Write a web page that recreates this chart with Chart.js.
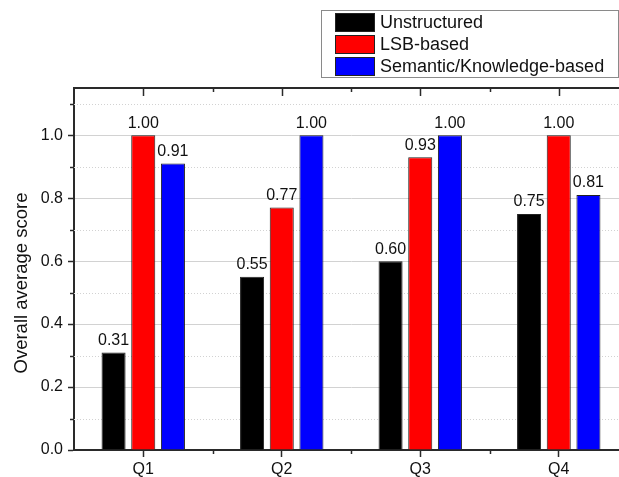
<!DOCTYPE html>
<html>
<head>
<meta charset="utf-8">
<script src="https://cdn.jsdelivr.net/npm/chart.js@4.4.1/dist/chart.umd.min.js"></script>
<style>
  html, body { margin: 0; padding: 0; background: #fff; overflow: hidden; }
  /* the plot area runs past the right edge of the visible frame */
  #wrap { width: 619px; height: 477px; overflow: hidden; }
  #c { display: block; }
</style>
</head>
<body>
<div id="wrap"><canvas id="c" width="640" height="477"></canvas></div>
<script>
// Quarterly scores per approach
const quarters = ['Q1', 'Q2', 'Q3', 'Q4'];
const seriesNames = ['Unstructured', 'LSB-based', 'Semantic/Knowledge-based'];
const unstructured = [0.31, 0.55, 0.60, 0.75];
const lsbBased = [1.00, 0.77, 0.93, 1.00];
const semanticBased = [0.91, 1.00, 1.00, 0.81];
const seriesColors = ['#000000', '#ff0000', '#0000ff'];
const yMajorTicks = [0.0, 0.2, 0.4, 0.6, 0.8, 1.0];
const yMinorTicks = [0.1, 0.3, 0.5, 0.7, 0.9, 1.1];
const yTitle = 'Overall average score';

const FONT = '"Liberation Sans", Arial, sans-serif';
const AXIS_COLOR = '#2a2a2a';

// Frame, minor grid, minor ticks, axis title, value labels and legend box
const decorations = {
  id: 'decorations',
  beforeDatasetsDraw(chart) {
    const { ctx, chartArea: a, scales: { y } } = chart;
    ctx.save();
    // dotted minor grid
    ctx.strokeStyle = '#d2d2d2';
    ctx.lineWidth = 1;
    ctx.setLineDash([1, 2]);
    yMinorTicks.forEach(v => {
      const py = Math.round(y.getPixelForValue(v)) + 0.5;
      ctx.beginPath(); ctx.moveTo(a.left, py); ctx.lineTo(a.right, py); ctx.stroke();
    });
    ctx.restore();
  },
  afterDraw(chart) {
    const { ctx, chartArea: a, scales: { x, y } } = chart;
    ctx.save();
    ctx.strokeStyle = AXIS_COLOR;
    // top frame line
    ctx.lineWidth = 2;
    ctx.beginPath(); ctx.moveTo(a.left - 1, a.top); ctx.lineTo(a.right, a.top); ctx.stroke();
    ctx.lineWidth = 1.5;
    // minor y ticks (outward)
    yMinorTicks.forEach(v => {
      const py = Math.round(y.getPixelForValue(v)) + 0.5;
      ctx.beginPath(); ctx.moveTo(a.left - 4, py); ctx.lineTo(a.left, py); ctx.stroke();
    });
    // x ticks: major at categories, minor at boundaries
    const n = quarters.length;
    const step = (a.right - a.left) / n;
    for (let i = 0; i < n; i++) {
      const cx = Math.round(x.getPixelForValue(i)) + 0.5;
      ctx.beginPath(); ctx.moveTo(cx, a.top); ctx.lineTo(cx, a.top + 8); ctx.stroke();
      if (i > 0) {
        const bx = Math.round(a.left + step * i) + 0.5;
        ctx.beginPath(); ctx.moveTo(bx, a.bottom); ctx.lineTo(bx, a.bottom + 4); ctx.stroke();
        ctx.beginPath(); ctx.moveTo(bx, a.top); ctx.lineTo(bx, a.top + 4); ctx.stroke();
      }
    }
    // y axis title
    ctx.fillStyle = '#111';
    ctx.font = '18.5px ' + FONT;
    ctx.textAlign = 'center';
    ctx.textBaseline = 'middle';
    ctx.translate(22, 283);
    ctx.rotate(-Math.PI / 2);
    ctx.fillText(yTitle, 0, 0);
    ctx.restore();

    // value labels above bars
    ctx.save();
    ctx.fillStyle = '#111';
    ctx.font = '16px ' + FONT;
    ctx.textAlign = 'center';
    ctx.textBaseline = 'bottom';
    chart.data.datasets.forEach((ds, di) => {
      chart.getDatasetMeta(di).data.forEach((bar, i) => {
        ctx.fillText(ds.data[i].toFixed(2), bar.x, bar.y - 4);
      });
    });
    ctx.restore();

    // legend box
    ctx.save();
    ctx.strokeStyle = '#8a8a8a';
    ctx.lineWidth = 1;
    ctx.fillStyle = '#fff';
    ctx.fillRect(321.5, 10.5, 297, 67);
    ctx.strokeRect(321.5, 10.5, 297, 67);
    ctx.font = '18px ' + FONT;
    ctx.textAlign = 'left';
    ctx.textBaseline = 'middle';
    chart.data.datasets.forEach((ds, di) => {
      const top = 13 + di * 22;
      ctx.fillStyle = ds.backgroundColor;
      ctx.fillRect(335, top, 40, 19);
      ctx.strokeStyle = '#222';
      ctx.strokeRect(335.5, top + 0.5, 39, 18);
      ctx.fillStyle = '#111';
      ctx.fillText(ds.label, 380, top + 10);
    });
    ctx.restore();
  }
};

const datasetValues = [unstructured, lsbBased, semanticBased];

new Chart(document.getElementById('c'), {
  type: 'bar',
  data: {
    labels: quarters,
    datasets: datasetValues.map((vals, i) => ({
      label: seriesNames[i],
      data: vals,
      backgroundColor: seriesColors[i],
      borderColor: '#222',
      borderWidth: 1,
      barPercentage: 0.81,
      categoryPercentage: 0.643
    }))
  },
  options: {
    responsive: false,
    animation: false,
    devicePixelRatio: 1,
    layout: { padding: { left: 0, top: 88, right: 12, bottom: 0 } },
    plugins: { legend: { display: false }, tooltip: { enabled: false } },
    scales: {
      x: {
        type: 'category',
        offset: true,
        afterFit(scale) { scale.height = 27; },
        grid: {
          offset: false,
          drawOnChartArea: false,
          tickLength: 7,
          tickWidth: 1.5,
          tickColor: AXIS_COLOR
        },
        border: { display: true, color: AXIS_COLOR, width: 2 },
        ticks: { color: '#111', font: { family: FONT, size: 16 }, padding: 3, maxRotation: 0 }
      },
      y: {
        min: 0,
        max: 1.15,
        afterFit(scale) { scale.width = 74; },
        afterBuildTicks(scale) { scale.ticks = yMajorTicks.map(v => ({ value: v })); },
        grid: {
          color: '#d2d2d2',
          lineWidth: 1,
          tickLength: 6,
          tickWidth: 1.5,
          tickColor: AXIS_COLOR
        },
        border: { display: true, color: AXIS_COLOR, width: 2 },
        ticks: {
          color: '#111',
          font: { family: FONT, size: 16 },
          padding: 5,
          callback: v => Number(v).toFixed(1)
        }
      }
    }
  },
  plugins: [decorations]
});
</script>
</body>
</html>
